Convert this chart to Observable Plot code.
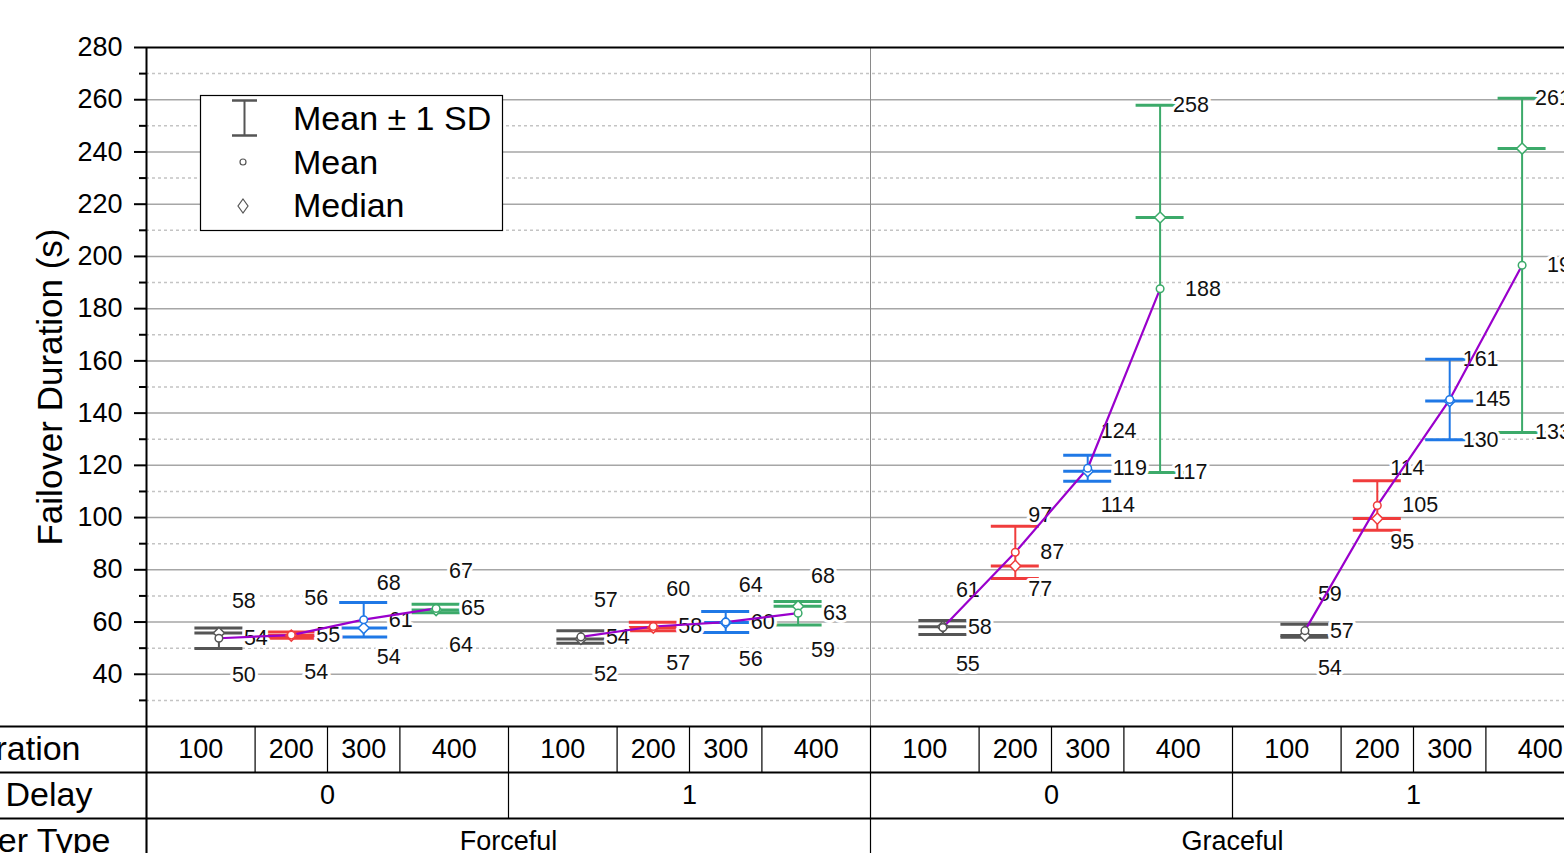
<!DOCTYPE html>
<html><head><meta charset="utf-8">
<script src="https://cdn.jsdelivr.net/npm/d3@7"></script>
<script src="https://cdn.jsdelivr.net/npm/@observablehq/plot@0.6"></script>
<style>
html,body{margin:0;padding:0;background:#fff;overflow:hidden;}
#chart svg{max-width:none !important;display:block;}
</style></head><body><div id="chart"></div>
<script>
// ---------- data ----------
const types = ["Forceful", "Graceful"];
const delays = ["0", "1"];
const durations = ["100", "200", "300", "400"];
const seriesColors = ["#555555", "#f03c3c", "#1f78e6", "#3caa6a"];
// order: Forceful/0, Forceful/1, Graceful/0, Graceful/1 ; durations 100..400
const means   = [53.8, 55.0, 60.9, 65.2,  54.3, 58.3, 60.0, 63.4,  57.9, 86.7, 118.9, 187.6,  56.7, 104.6, 145.2, 196.6];
const sds     = [3.9, 1.2, 6.6, 1.6,      2.4, 1.6, 4.0, 4.5,      2.7, 10.0, 5.0, 70.3,       2.5, 9.5, 15.4, 64.0];
const medians = [55.8, 54.8, 57.7, 64.6,  53.5, 57.9, 59.8, 66.0,  58.2, 81.5, 117.7, 214.9,  54.8, 99.6, 144.6, 241.3];
const yTicks = [40, 60, 80, 100, 120, 140, 160, 180, 200, 220, 240, 260, 280];
const yMinorTicks = [30, 50, 70, 90, 110, 130, 150, 170, 190, 210, 230, 250, 270];
const rowLabels = ["Duration", "Failover Delay", "Failover Type"];
const yTitle = "Failover Duration (s)";
const legendLabels = ["Mean \u00b1 1 SD", "Mean", "Median"];

// ---------- geometry ----------
const W = 1600, H = 880, mL = 146, mR = 6, mT = 47, mB = 154;
const X0 = 0, X1 = 20, Y0 = 20, Y1 = 280;
const pxX = (W - mL - mR) / (X1 - X0);
const pxY = (H - mT - mB) / (Y1 - Y0);
const capHalf = 24 / pxX;
const labelOff = 37 / pxY;
const rowH = 46 / pxY;
const xLeft = -mL / pxX, xRight = X1 + mR / pxX;
const purple = "#9a00cc";
const font = "'Liberation Sans', Arial, sans-serif";

const data = [];
for (let g = 0; g < 4; g++) {
  for (let i = 0; i < 4; i++) {
    const k = g * 4 + i;
    data.push({
      group: g, pos: g * 5 + i + 1, color: seriesColors[i],
      mean: means[k], sd: sds[k], median: medians[k],
      lo: means[k] - sds[k], hi: means[k] + sds[k]
    });
  }
}
const sideLabels = [], meanLabels = [];
for (const d of data) {
  sideLabels.push({pos: d.pos, y: Math.max(d.hi, d.mean + labelOff), t: Math.round(d.hi)});
  meanLabels.push({pos: d.pos, y: d.mean, t: Math.round(d.mean)});
  sideLabels.push({pos: d.pos, y: Math.min(d.lo, d.mean - labelOff), t: Math.round(d.lo)});
}
const labelStyle = {x: "pos", y: "y", text: "t", textAnchor: "start", fontSize: 21.5, fill: "#111",
  stroke: "#fff", strokeWidth: 6, paintOrder: "stroke"};

// table cells
const rowTop = k => Y0 - k * rowH;
const row1Cells = [], row2Cells = [], row3Cells = [];
for (let g = 0; g < 4; g++) {
  const b = [g * 5, g * 5 + 1.5, g * 5 + 2.5, g * 5 + 3.5, g * 5 + 5];
  for (let i = 0; i < 4; i++) row1Cells.push({a: b[i], b: b[i + 1], t: durations[i]});
  row2Cells.push({a: g * 5, b: g * 5 + 5, t: delays[g % 2]});
}
for (let t = 0; t < 2; t++) row3Cells.push({a: t * 10, b: t * 10 + 10, t: types[t]});
const tableRows = [row1Cells, row2Cells, row3Cells];
const tableMarks = [];
tableRows.forEach((cells, k) => {
  tableMarks.push(Plot.ruleX(cells, {x: "a", y1: rowTop(k), y2: rowTop(k + 1), stroke: "#000", strokeWidth: 1.2}));
  tableMarks.push(Plot.text(cells, {x: d => (d.a + d.b) / 2, y: rowTop(k + 0.5), text: "t", fontSize: 27, fill: "#000"}));
});
const rowLabelX = [80, 92, 110].map(px => (px - mL) / pxX);
const rowLabelData = rowLabels.map((t, k) => ({t, x: rowLabelX[k], y: rowTop(k + 0.5)}));

const plot = Plot.plot({
  width: W, height: H,
  marginLeft: mL, marginRight: mR, marginTop: mT, marginBottom: mB,
  x: {domain: [X0, X1], axis: null},
  y: {domain: [Y0, Y1], axis: null},
  color: {type: "identity"},
  style: {fontFamily: font, color: "#000", background: "#fff", overflow: "visible"},
  marks: [
    // grid
    Plot.ruleY(yMinorTicks, {stroke: "#c4c4c4", strokeWidth: 1.5, strokeDasharray: "3,3"}),
    Plot.ruleY(yTicks.filter(v => v < Y1), {stroke: "#a6a6a6", strokeWidth: 1.5}),
    Plot.ruleX([10], {y1: Y0, y2: Y1, stroke: "#8a8a8a", strokeWidth: 1}),
    // error bars
    Plot.ruleX(data, {x: "pos", y1: "lo", y2: "hi", stroke: "color", strokeWidth: 2}),
    Plot.ruleY(data, {y: "hi", x1: d => d.pos - capHalf, x2: d => d.pos + capHalf, stroke: "color", strokeWidth: 3}),
    Plot.ruleY(data, {y: "lo", x1: d => d.pos - capHalf, x2: d => d.pos + capHalf, stroke: "color", strokeWidth: 3}),
    Plot.ruleY(data, {y: "median", x1: d => d.pos - capHalf, x2: d => d.pos + capHalf, stroke: "color", strokeWidth: 3}),
    // value labels
    Plot.text(sideLabels, {...labelStyle, dx: 13}),
    Plot.text(meanLabels, {...labelStyle, dx: 25}),
    // mean line
    Plot.line(data, {x: "pos", y: "mean", z: "group", stroke: purple, strokeWidth: 2.2}),
    // markers
    Plot.dot(data, {x: "pos", y: "median", symbol: "diamond2", r: 5, fill: "#fff", stroke: "color", strokeWidth: 1.5}),
    Plot.dot(data, {x: "pos", y: "mean", r: 3.8, fill: "#fff", stroke: "color", strokeWidth: 1.5}),
    // frame
    Plot.ruleY([Y1], {x1: X0, x2: xRight, stroke: "#000", strokeWidth: 2}),
    Plot.ruleY([Y0, rowTop(1), rowTop(2)], {x1: xLeft, x2: xRight, stroke: "#000", strokeWidth: 2}),
    ...tableMarks,
    Plot.ruleX([X0], {y1: Y1, y2: rowTop(3), stroke: "#000", strokeWidth: 2}),
    Plot.text(rowLabelData, {x: "x", y: "y", text: "t", textAnchor: "end", fontSize: 34, fill: "#000"}),
    // y axis
    Plot.axisY(yMinorTicks, {tickSize: 7, tickFormat: () => "", strokeWidth: 2, stroke: "#000"}),
    Plot.axisY(yTicks, {tickSize: 12, tickPadding: 12, fontSize: 27, strokeWidth: 2, stroke: "#000", fill: "#000", label: null}),
    Plot.text([yTitle], {frameAnchor: "left", dx: -96, rotate: -90, textAnchor: "middle", fontSize: 35, fill: "#000"})
  ]
});
document.getElementById("chart").appendChild(plot);

// legend
const svg = d3.select(plot);
const lg = svg.append("g").attr("font-family", font).attr("text-anchor", "start");
lg.append("rect").attr("x", 200.5).attr("y", 95.5).attr("width", 302).attr("height", 135)
  .attr("fill", "#fff").attr("stroke", "#000").attr("stroke-width", 1.2);
const gray = seriesColors[0];
lg.append("line").attr("x1", 244.5).attr("x2", 244.5).attr("y1", 100).attr("y2", 136).attr("stroke", gray).attr("stroke-width", 2);
lg.append("line").attr("x1", 232).attr("x2", 257).attr("y1", 100.5).attr("y2", 100.5).attr("stroke", gray).attr("stroke-width", 2.5);
lg.append("line").attr("x1", 232).attr("x2", 257).attr("y1", 135.5).attr("y2", 135.5).attr("stroke", gray).attr("stroke-width", 2.5);
lg.append("circle").attr("cx", 243).attr("cy", 162).attr("r", 3).attr("fill", "#fff").attr("stroke", gray).attr("stroke-width", 1.2);
lg.append("path").attr("d", "M243,199L248,206L243,213L238,206Z").attr("fill", "#fff").attr("stroke", gray).attr("stroke-width", 1.2);
[118, 162, 205].forEach((y, i) => {
  lg.append("text").attr("x", 293).attr("y", y).attr("dy", "0.35em").attr("font-size", 34).attr("fill", "#000").text(legendLabels[i]);
});
</script></body></html>
